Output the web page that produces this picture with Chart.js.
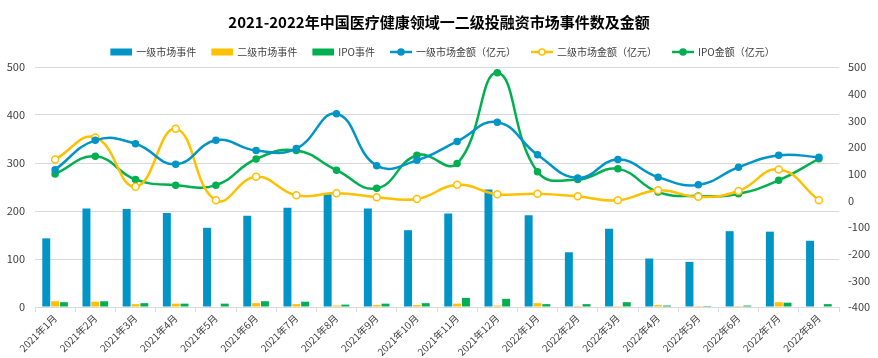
<!DOCTYPE html>
<html lang="zh-CN">
<head>
<meta charset="utf-8">
<title>2021-2022年中国医疗健康领域一二级投融资市场事件数及金额</title>
<script src="https://cdn.jsdelivr.net/npm/chart.js@4.4.0/dist/chart.umd.min.js"></script>
<style>
    html, body { margin: 0; padding: 0; background: #fff; }
    #wrap { width: 878px; height: 358px; }
</style>
</head>
<body>
<div id="wrap"><canvas id="chart" width="878" height="358"></canvas></div>
<script>
const months = ['2021年1月', '2021年2月', '2021年3月', '2021年4月', '2021年5月', '2021年6月', '2021年7月',
    '2021年8月', '2021年9月', '2021年10月', '2021年11月', '2021年12月', '2022年1月', '2022年2月',
    '2022年3月', '2022年4月', '2022年5月', '2022年6月', '2022年7月', '2022年8月'];

// event counts (left axis)
const primaryEvents = [143, 205, 204, 196, 165, 190, 207, 235, 205, 160, 195, 245, 191, 114, 163, 101, 94, 158, 157, 138];
const secondaryEvents = [12, 11, 6, 7, 0, 8, 6, 3, 4, 4, 7, 3, 8, 2, 2, 4, 2, 2, 10, 0];
const ipoEvents = [10, 12, 8, 7, 7, 12, 11, 5, 7, 8, 19, 17, 6, 6, 10, 3, 2, 3, 9, 6];

// amounts in 亿元 (right axis)
const primaryAmount = [115, 225, 212, 135, 225, 187, 194, 325, 130, 150, 221, 293, 171, 84, 153, 87, 58, 124, 169, 162];
const secondaryAmount = [153, 236, 51, 268, 0, 88, 19, 27, 12, 5, 58, 23, 25, 15, 0, 38, 13, 35, 116, 0];
const ipoAmount = [99, 165, 78, 57, 57, 155, 187, 113, 45, 169, 138, 478, 107, 78, 118, 31, 16, 25, 75, 156];

const leftTicks = { min: 0, max: 500, step: 100 };
const rightTicks = { min: -400, max: 500, step: 100 };

const BLUE = '#0095c6';
const YELLOW = '#ffc000';
const GREEN = '#00b050';

Chart.defaults.font.family = '"Noto Sans CJK SC", "Noto Sans", sans-serif';
Chart.defaults.color = '#404040';

// legend symbols: filled box for bars, line with marker for lines
function legendIcon(kind, color, hollow) {
    const c = document.createElement('canvas');
    c.width = 30;
    c.height = 10;
    const g = c.getContext('2d');
    if (kind === 'bar') {
        g.fillStyle = color;
        g.fillRect(8, 1.5, 22, 7);
    } else {
        g.strokeStyle = color;
        g.lineWidth = 2.5;
        g.beginPath();
        g.moveTo(8, 5);
        g.lineTo(30, 5);
        g.stroke();
        g.beginPath();
        g.arc(19, 5, 3, 0, Math.PI * 2);
        g.fillStyle = hollow ? '#fff' : color;
        g.fill();
        g.lineWidth = 1.5;
        g.stroke();
    }
    return c;
}

const icons = [
    legendIcon('bar', BLUE),
    legendIcon('bar', YELLOW),
    legendIcon('bar', GREEN),
    legendIcon('line', BLUE),
    legendIcon('line', YELLOW, true),
    legendIcon('line', GREEN)
];

function barSet(label, data, color) {
    return {
        type: 'bar',
        label: label,
        data: data,
        backgroundColor: color,
        yAxisID: 'y',
        order: 1,
        categoryPercentage: 0.66,
        barPercentage: 0.9
    };
}

function lineSet(label, data, color, hollow) {
    return {
        type: 'line',
        label: label,
        data: data,
        borderColor: color,
        backgroundColor: color,
        borderWidth: 2.5,
        pointRadius: hollow ? 3.5 : 3,
        pointBackgroundColor: hollow ? '#fff' : color,
        pointBorderColor: color,
        pointBorderWidth: 1.5,
        tension: 0.45,
        fill: false,
        yAxisID: 'y1',
        order: 0
    };
}

new Chart(document.getElementById('chart'), {
    data: {
        labels: months,
        datasets: [
            barSet('一级市场事件', primaryEvents, BLUE),
            barSet('二级市场事件', secondaryEvents, YELLOW),
            barSet('IPO事件', ipoEvents, GREEN),
            lineSet('一级市场金额（亿元）', primaryAmount, BLUE),
            lineSet('二级市场金额（亿元）', secondaryAmount, YELLOW, true),
            lineSet('IPO金额（亿元）', ipoAmount, GREEN)
        ]
    },
    options: {
        responsive: false,
        animation: false,
        devicePixelRatio: 1,
        layout: { padding: { left: 0, right: 0, top: 0, bottom: 0 } },
        plugins: {
            title: {
                display: true,
                text: '2021-2022年中国医疗健康领域一二级投融资市场事件数及金额',
                color: '#000',
                font: { size: 15, weight: 'bold' },
                padding: { top: 13, bottom: 8 }
            },
            legend: {
                position: 'top',
                labels: {
                    usePointStyle: true,
                    pointStyleWidth: 28,
                    boxHeight: 10,
                    padding: 8,
                    color: '#404040',
                    font: { size: 10 },
                    generateLabels: chart => {
                        const items = Chart.defaults.plugins.legend.labels.generateLabels(chart);
                        items.sort((a, b) => a.datasetIndex - b.datasetIndex);
                        items.forEach(it => { it.pointStyle = icons[it.datasetIndex]; });
                        return items;
                    }
                }
            },
            tooltip: { enabled: false }
        },
        scales: {
            x: {
                grid: { drawOnChartArea: false, drawTicks: true, tickLength: 5, color: '#d9d9d9' },
                border: { color: '#d9d9d9' },
                ticks: {
                    autoSkip: false,
                    maxRotation: 45,
                    minRotation: 45,
                    padding: 0,
                    color: '#404040',
                    font: { size: 10 }
                },
                afterFit: s => { s.height = 51; }
            },
            y: {
                position: 'left',
                min: leftTicks.min,
                max: leftTicks.max,
                ticks: { stepSize: leftTicks.step, padding: 10, color: '#404040', font: { size: 11 } },
                grid: { color: '#d9d9d9', drawTicks: false },
                border: { display: false },
                afterFit: s => { s.width = 35; }
            },
            y1: {
                position: 'right',
                min: rightTicks.min,
                max: rightTicks.max,
                ticks: { stepSize: rightTicks.step, padding: 9, color: '#404040', font: { size: 11 } },
                grid: { display: false, drawTicks: false },
                border: { display: false },
                afterFit: s => { s.width = 39; }
            }
        }
    }
});
</script>
</body>
</html>
